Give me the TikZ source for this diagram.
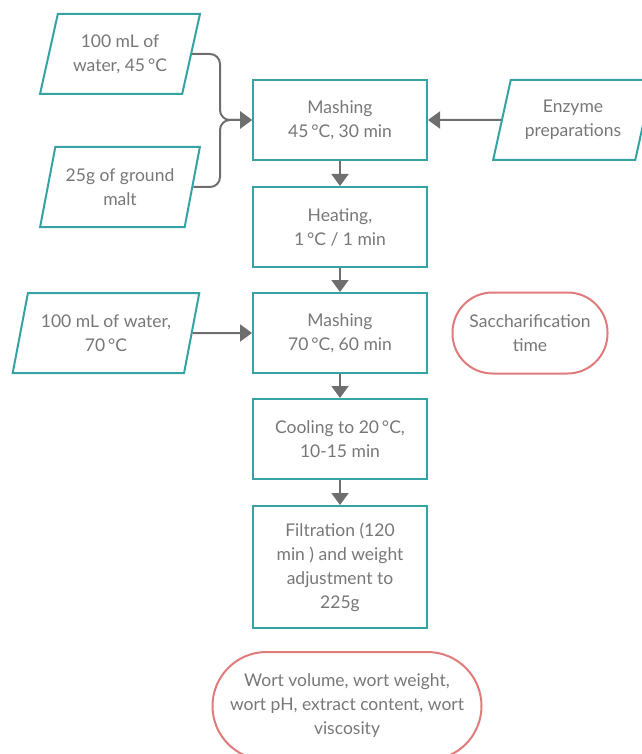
\documentclass[tikz,border=0pt]{standalone}
\usepackage{fontspec}
\setmainfont{Lato}
\usetikzlibrary{arrows.meta,shapes.geometric}
\definecolor{C3AA6A6}{HTML}{35A3A3}
\definecolor{CE07B7B}{HTML}{E07B7B}
\definecolor{C6E6E6E}{HTML}{6E6E6E}
\definecolor{C777777}{HTML}{777777}

\tikzset{
  stepbox/.style={draw=C3AA6A6, line width=2pt, minimum width=174pt, minimum height=80pt, align=center, text=C777777, font=\fontsize{17.5}{24}\selectfont},
  inbox/.style={draw=C3AA6A6, line width=2pt, shape=trapezium, trapezium left angle=71, trapezium right angle=109, trapezium stretches=true, minimum width=160pt, minimum height=80pt, align=center, text=C777777, font=\fontsize{17.5}{24}\selectfont},
  notebox/.style={draw=CE07B7B, line width=2pt, rounded corners=40pt, align=center, text=C777777, font=\fontsize{17.5}{24}\selectfont},
  flow/.style={-{Triangle[length=12pt,width=17pt]}, draw=C6E6E6E, line width=2pt}
}

\begin{document}
\begin{tikzpicture}[inner sep=0pt]
\useasboundingbox (0pt,0pt) rectangle (641pt,-754pt);
\node (n0) [stepbox, at={(340pt,-120pt)}] {Mashing\\45\,°C, 30 min};
\node (n1) [stepbox, at={(340pt,-227pt)}] {Heating,\\1\,°C / 1 min};
\node (n2) [stepbox, at={(340pt,-333pt)}] {Mashing\\70\,°C, 60 min};
\node (n3) [stepbox, at={(340pt,-439pt)}] {Cooling to 20\,°C,\\10-15 min};
\node (n4) [stepbox, minimum height=122pt, at={(340pt,-567pt)}] {Filtration (120\\min ) and weight\\adjustment to\\225g};
\node (n5) [inbox, at={(120pt,-54pt)}] {100 mL of\\water, 45\,°C};
\node (n6) [inbox, at={(120pt,-187pt)}] {25g of ground\\malt};
\node (n7) [inbox, at={(573pt,-120pt)}] {Enzyme\\preparations};
\node (n8) [inbox, minimum width=187pt, at={(106pt,-333pt)}] {100 mL of water,\\70\,°C};
\node (n9) [notebox, minimum width=155pt, minimum height=81pt, at={(530pt,-333pt)}] {Saccharification\\time};
\node (n10) [notebox, rounded corners=54pt, minimum width=269pt, minimum height=108pt, at={(347pt,-706pt)}] {Wort volume, wort weight,\\wort pH, extract content, wort\\viscosity};
\coordinate (j0) at (220pt,-120pt);
\path [flow, rounded corners=10pt] (n5.east) -| (j0) -- (n0.west);
\path [flow, rounded corners=10pt] (n6.east) -| (j0) -- (n0.west);
\path [flow] (n7.west)--(n0.east);
\path [flow] (n8.east)--(n2.west);
\path [flow] (n0)--(n1);
\path [flow] (n1)--(n2);
\path [flow] (n2)--(n3);
\path [flow] (n3)--(n4);
\end{tikzpicture}
\end{document}
